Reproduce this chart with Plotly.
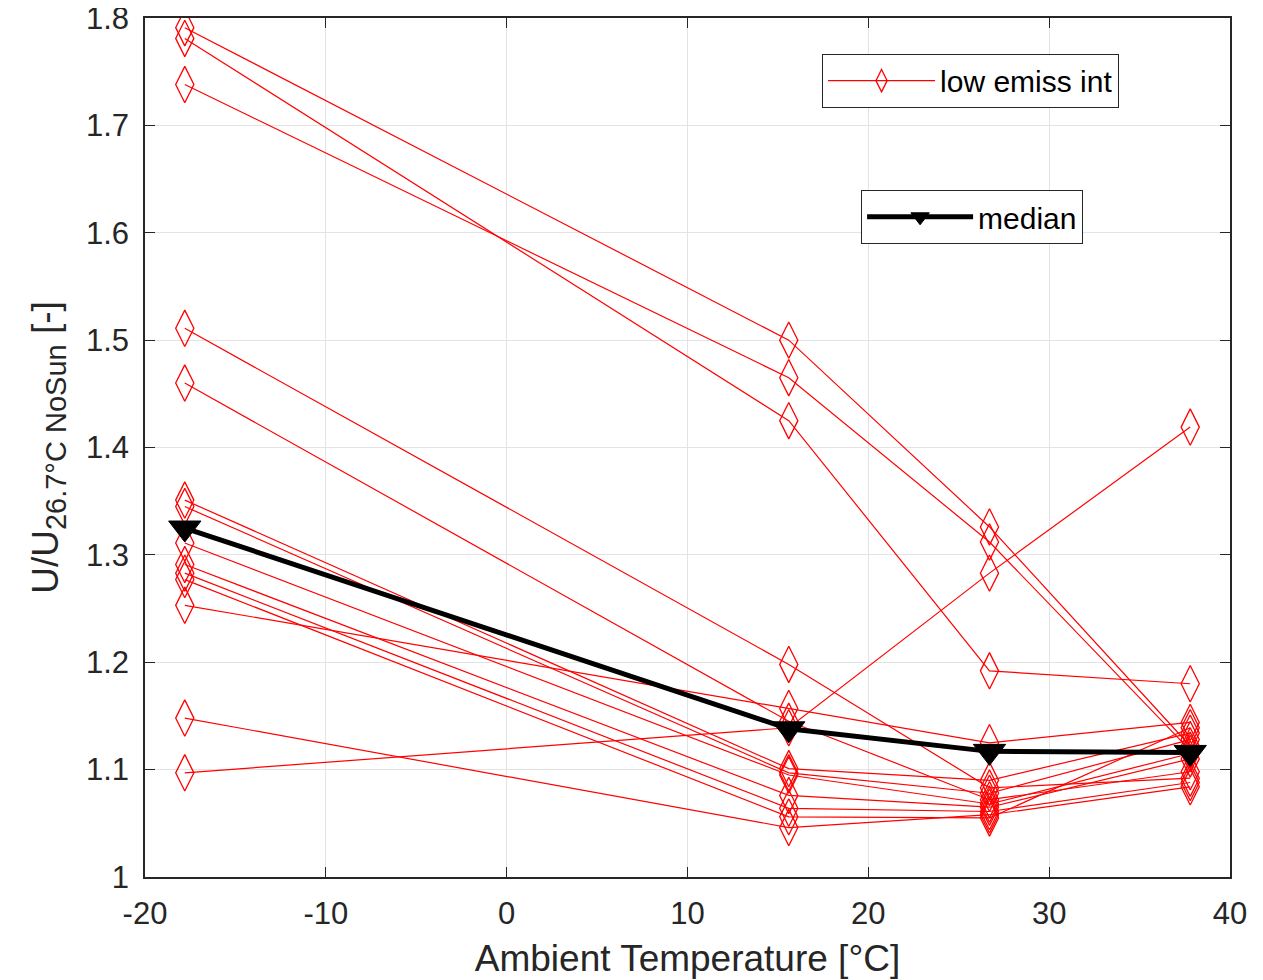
import plotly.graph_objects as go

temps = [-17.8, 15.6, 26.7, 37.8]

s01 = [1.791, 1.500, 1.326, 1.122]
s02 = [1.781, 1.425, 1.192, 1.180]
s03 = [1.738, 1.465, 1.312, 1.118]
s04 = [1.511, 1.198, 1.083, 1.092]
s05 = [1.460, 1.145, 1.072, 1.098]
s06 = [1.097, 1.139, 1.283, 1.419]
s07 = [1.148, 1.046, 1.058, 1.084]
s08 = [1.253, 1.157, 1.125, 1.144]
s09 = [1.351, 1.101, 1.090, 1.134]
s10 = [1.345, 1.097, 1.078, 1.128]
s11 = [1.311, 1.095, 1.068, 1.115]
s12 = [1.291, 1.076, 1.065, 1.110]
s13 = [1.283, 1.064, 1.061, 1.088]
s14 = [1.277, 1.056, 1.055, 1.139]
series = [s01, s02, s03, s04, s05, s06, s07, s08, s09, s10, s11, s12, s13, s14]

median_vals = [1.325, 1.138, 1.117, 1.116]

x_ticks = [-20, -10, 0, 10, 20, 30, 40]
y_ticks = [1.0, 1.1, 1.2, 1.3, 1.4, 1.5, 1.6, 1.7, 1.8]
y_tick_labels = ["1", "1.1", "1.2", "1.3", "1.4", "1.5", "1.6", "1.7", "1.8"]

FONT = "Liberation Sans, Arial, sans-serif"
AX = "#262626"

fig = go.Figure()
for i, s in enumerate(series):
    fig.add_trace(go.Scatter(
        x=temps, y=s, mode="lines+markers",
        line=dict(color="#ff0000", width=1.2),
        marker=dict(symbol="diamond-tall-open", size=26, color="#ff0000",
                    line=dict(width=1.3, color="#ff0000")),
        name="low emiss int", showlegend=(i == 0), legend="legend",
    ))

fig.add_trace(go.Scatter(
    x=temps, y=median_vals, mode="lines+markers",
    line=dict(color="black", width=5),
    marker=dict(symbol="triangle-down", size=28, color="black",
                line=dict(width=1, color="black")),
    name="median", legend="legend2",
))

fig.update_layout(
    width=1263, height=980,
    margin=dict(l=137, r=41, t=10, b=111),
    paper_bgcolor="white", plot_bgcolor="white",
    font=dict(family=FONT, size=30, color=AX),
    legend=dict(x=0.624, y=0.9585, xanchor="left", yanchor="top",
                bgcolor="white", bordercolor=AX, borderwidth=1,
                font=dict(size=30, color="black"), itemwidth=107),
    legend2=dict(x=0.660, y=0.800, xanchor="left", yanchor="top",
                 bgcolor="white", bordercolor=AX, borderwidth=1,
                 font=dict(size=30, color="black"), itemwidth=106),
)

fig.update_xaxes(
    range=[-20, 40], tickvals=x_ticks, ticktext=[str(v) for v in x_ticks],
    showgrid=True, gridcolor="#e3e3e3", gridwidth=1,
    showline=True, linecolor=AX, linewidth=1.5, mirror="ticks",
    ticks="inside", ticklen=10, tickcolor=AX, zeroline=False,
    tickfont=dict(size=31, color=AX), ticklabelstandoff=8,
    ticklabeloverflow="allow", automargin=False,
    title=dict(text="Ambient Temperature [°C]", font=dict(size=37, color=AX), standoff=15),
)
fig.update_yaxes(
    range=[1.0, 1.8], tickvals=y_ticks, ticktext=y_tick_labels,
    showgrid=True, gridcolor="#e3e3e3", gridwidth=1,
    showline=True, linecolor=AX, linewidth=1.5, mirror="ticks",
    ticks="inside", ticklen=10, tickcolor=AX, zeroline=False,
    tickfont=dict(size=31, color=AX), ticklabelstandoff=8,
    ticklabeloverflow="allow", automargin=False,
    title=dict(text="U/U<sub><span style='font-size:29px'>26.7°C NoSun</span></sub> [-]",
               font=dict(size=37, color=AX), standoff=16),
)

fig.write_html("out.html")
